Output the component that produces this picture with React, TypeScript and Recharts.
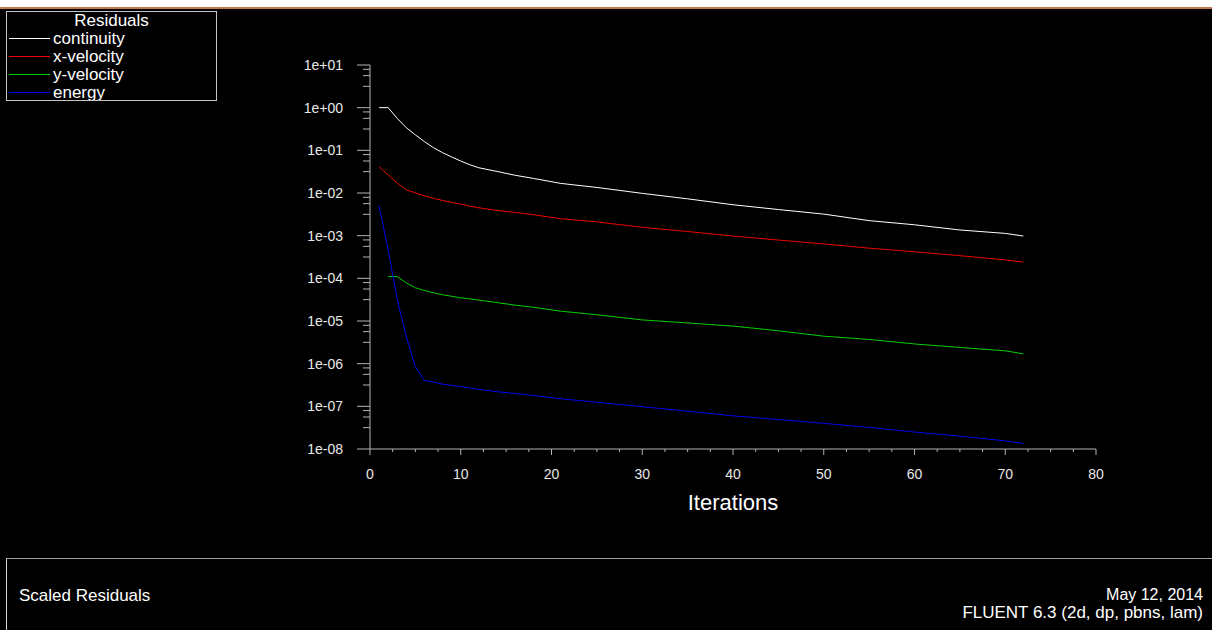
import { LineChart, Line, XAxis, YAxis, Legend } from "recharts"

const FONT = '"Liberation Sans", Arial, sans-serif'
const AXIS = "#b4b4b4"

// iteration numbers the residuals were read at
const iterations = [1, 2, 3, 4, 5, 6, 7, 8, 9, 10, 11, 12, 14, 16, 18, 21, 25, 30, 35, 40, 45, 50, 55, 60, 65, 70, 72]

const continuity = [
  1.0, 1.0, 0.56, 0.34, 0.23, 0.16, 0.115, 0.088, 0.07, 0.056, 0.046, 0.039, 0.032, 0.026, 0.022,
  0.0168, 0.0135, 0.0098, 0.0073, 0.0053, 0.0041, 0.0032, 0.00225, 0.0018, 0.00136, 0.00113, 0.00098,
]
const xVelocity = [
  0.041, 0.0265, 0.017, 0.0118, 0.0101, 0.0086, 0.0075, 0.0067, 0.006, 0.0055, 0.0049, 0.0045, 0.0039, 0.0035,
  0.0031, 0.0025, 0.0021, 0.00157, 0.00125, 0.00098, 0.00079, 0.00064, 0.00051, 0.00042, 0.00034, 0.00027, 0.00024,
]
const yVelocity = [
  null, 1.1e-4, 1.1e-4, 7.8e-5, 6.0e-5, 5.2e-5, 4.6e-5, 4.1e-5, 3.8e-5, 3.5e-5, 3.3e-5, 3.1e-5, 2.7e-5, 2.35e-5,
  2.1e-5, 1.7e-5, 1.4e-5, 1.06e-5, 9.0e-6, 7.6e-6, 5.9e-6, 4.4e-6, 3.7e-6, 2.9e-6, 2.4e-6, 2.0e-6, 1.7e-6,
]
const energy = [
  5.0e-3, 4.6e-4, 3.2e-5, 4.3e-6, 8.5e-7, 4.0e-7, 3.7e-7, 3.3e-7, 3.1e-7, 2.9e-7, 2.7e-7, 2.5e-7, 2.2e-7, 2.0e-7,
  1.8e-7, 1.5e-7, 1.25e-7, 9.8e-8, 7.7e-8, 6.0e-8, 4.9e-8, 4.0e-8, 3.2e-8, 2.5e-8, 2.0e-8, 1.55e-8, 1.35e-8,
]

const data = iterations.map((iter, i) => ({
  iter,
  continuity: continuity[i],
  xVelocity: xVelocity[i],
  yVelocity: yVelocity[i],
  energy: energy[i],
}))

const series = [
  { key: "continuity", name: "continuity", color: "#ffffff" },
  { key: "xVelocity", name: "x-velocity", color: "#f00000" },
  { key: "yVelocity", name: "y-velocity", color: "#00d000" },
  { key: "energy", name: "energy", color: "#0000f0" },
]

// axis ticks
const xMajor = [0, 10, 20, 30, 40, 50, 60, 70, 80]
const xTicks: number[] = []
for (let v = 0; v <= 80; v += 2.5) xTicks.push(v)

const yDecades = [1, 0, -1, -2, -3, -4, -5, -6, -7, -8]
const yMinorOffsets = [0.1, 0.25, 0.5]
const yTicks: number[] = []
yDecades.forEach((k) => {
  yTicks.push(Math.pow(10, k))
  if (k > -8) yMinorOffsets.forEach((o) => yTicks.push(Math.pow(10, k - o)))
})

const isDecade = (v: number) => {
  const l = Math.log10(v)
  return Math.abs(l - Math.round(l)) < 1e-6
}
const fmtExp = (v: number) => {
  const e = Math.round(Math.log10(v))
  return `1e${e < 0 ? "-" : "+"}${String(Math.abs(e)).padStart(2, "0")}`
}

function YTick(props: { x?: number; y?: number; payload?: { value: number } }) {
  const { x = 0, y = 0, payload } = props
  const v = payload?.value ?? 1
  const major = isDecade(v)
  return (
    <g>
      <line x1={x} x2={x - (major ? 13 : 7)} y1={y} y2={y} stroke={AXIS} />
      {major && (
        <text x={x - 27} y={y + 5} textAnchor="end" fill="#e8e8e8" fontSize={14} fontFamily={FONT}>
          {fmtExp(v)}
        </text>
      )}
    </g>
  )
}

function XTick(props: { x?: number; y?: number; payload?: { value: number } }) {
  const { x = 0, y = 0, payload } = props
  const v = payload?.value ?? 0
  const major = xMajor.includes(v)
  return (
    <g>
      <line x1={x} x2={x} y1={y} y2={y + (major ? 6 : 3)} stroke={AXIS} />
      {major && (
        <text x={x} y={y + 30} textAnchor="middle" fill="#e8e8e8" fontSize={14} fontFamily={FONT}>
          {v}
        </text>
      )}
    </g>
  )
}

// legend box drawn in series order, like Fluent's residual monitor
function ResidualLegend() {
  return (
    <div
      style={{
        width: 209,
        height: 88,
        border: "1px solid #c4c4c4",
        background: "#000",
        overflow: "hidden",
        fontFamily: FONT,
        color: "#fff",
      }}
    >
      <div style={{ textAlign: "center", fontSize: 17, lineHeight: "17px", height: 17 }}>Residuals</div>
      {series.map((s) => (
        <div key={s.key} style={{ display: "flex", alignItems: "center", height: 18 }}>
          <div style={{ marginLeft: 2, width: 41, height: 1, background: s.color }} />
          <span style={{ marginLeft: 3, fontSize: 17, lineHeight: "17px" }}>{s.name}</span>
        </div>
      ))}
    </div>
  )
}

export default function App() {
  return (
    <div
      style={{
        position: "absolute",
        left: 0,
        top: 0,
        width: 1212,
        height: 630,
        background: "#000",
        overflow: "hidden",
        fontFamily: FONT,
      }}
    >
      <div style={{ position: "absolute", left: 0, top: 0, width: 1212, height: 7, background: "#fff" }} />
      <div style={{ position: "absolute", left: 0, top: 7, width: 1212, height: 2, background: "#c27a4c" }} />

      <div style={{ position: "absolute", left: 0, top: 0 }}>
        <LineChart width={1212} height={558} data={data} margin={{ top: 65, right: 116, left: 300, bottom: 39 }}>
          <XAxis
            dataKey="iter"
            type="number"
            domain={[0, 80]}
            ticks={xTicks}
            interval={0}
            tick={<XTick />}
            tickLine={false}
            tickSize={0}
            tickMargin={0}
            height={70}
            axisLine={{ stroke: AXIS }}
            label={{
              value: "Iterations",
              position: "insideBottom",
              offset: 9,
              fill: "#fff",
              fontSize: 22,
              fontFamily: FONT,
            }}
          />
          <YAxis
            type="number"
            scale="log"
            domain={[1e-8, 10]}
            allowDataOverflow
            ticks={yTicks}
            interval={0}
            tick={<YTick />}
            tickLine={false}
            tickSize={0}
            tickMargin={0}
            width={70}
            axisLine={{ stroke: AXIS }}
          />
          <Legend
            layout="vertical"
            align="center"
            verticalAlign="middle"
            wrapperStyle={{ left: 6, top: 11, width: 211, height: 90 }}
            content={<ResidualLegend />}
          />
          {series.map((s) => (
            <Line
              key={s.key}
              name={s.name}
              dataKey={s.key}
              type="linear"
              stroke={s.color}
              strokeWidth={1}
              dot={false}
              isAnimationActive={false}
            />
          ))}
        </LineChart>
      </div>

      <div
        style={{
          position: "absolute",
          left: 6,
          top: 558,
          width: 1206,
          height: 72,
          borderTop: "1px solid #a0a0a0",
          borderLeft: "1px solid #d0d0d0",
          boxSizing: "border-box",
          color: "#fff",
          fontSize: 17,
        }}
      >
        <div style={{ position: "absolute", left: 12, top: 27 }}>Scaled Residuals</div>
        <div style={{ position: "absolute", right: 9, top: 27, textAlign: "right", lineHeight: "18px" }}>
          <div style={{ fontSize: 16 }}>May 12, 2014</div>
          <div>FLUENT 6.3 (2d, dp, pbns, lam)</div>
        </div>
      </div>
    </div>
  )
}
